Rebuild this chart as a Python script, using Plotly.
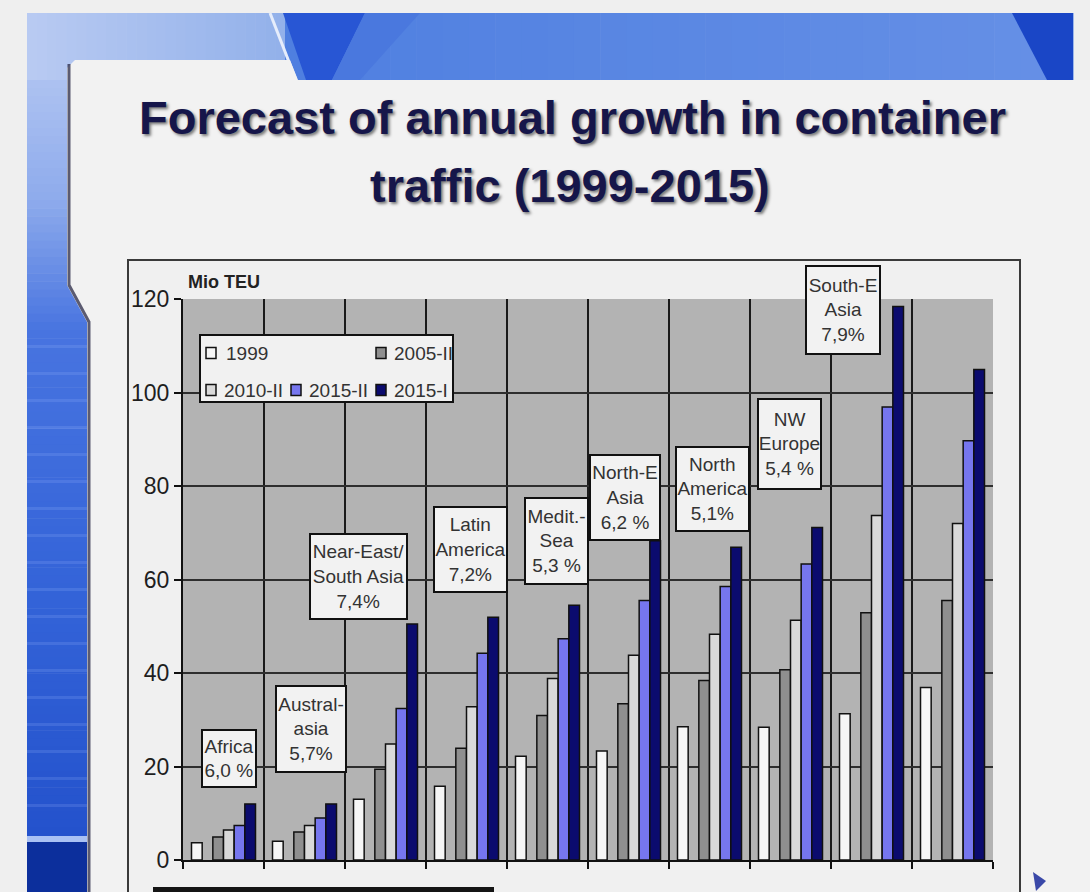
import plotly.graph_objects as go

# ---- data -------------------------------------------------------------
regions = ["Africa", "Australasia", "Near-East/South Asia", "Latin America",
           "Mediterranean Sea", "North-East Asia", "North America",
           "NW Europe", "South-East Asia", "China"]
region_labels = ["Africa", "Austral-<br>asia", "Near-East/<br>South Asia",
                 "Latin<br>America", "Medit.-<br>Sea", "North-E<br>Asia",
                 "North<br>America", "NW<br>Europe", "South-E<br>Asia", "China"]
growth_rates = ["6,0 %", "5,7%", "7,4%", "7,2%", "5,3 %",
                "6,2 %", "5,1%", "5,4 %", "7,9%", "6,2 %"]

series_names = ["1999", "2005-II", "2010-II", "2015-II", "2015-I"]
teu_1999 = [3.7, 4.0, 13.0, 15.8, 22.2, 23.3, 28.5, 28.4, 31.3, 36.9]
teu_2005_ii = [4.9, 6.0, 19.4, 23.9, 30.9, 33.4, 38.4, 40.7, 52.9, 55.5]
teu_2010_ii = [6.4, 7.4, 24.8, 32.8, 38.8, 43.8, 48.3, 51.3, 73.7, 72.0]
teu_2015_ii = [7.4, 9.0, 32.4, 44.2, 47.3, 55.5, 58.5, 63.3, 96.9, 89.7]
teu_2015_i = [12.0, 12.0, 50.5, 51.9, 54.5, 68.3, 66.9, 71.1, 118.4, 104.9]
series_values = [teu_1999, teu_2005_ii, teu_2010_ii, teu_2015_ii, teu_2015_i]

y_ticks = [0, 20, 40, 60, 80, 100, 120]

# ---- styling ----------------------------------------------------------
series_colors = ["#f6f6f6", "#8f8f8f", "#d9d9d9", "#7676ee", "#0b0b6e"]
# six slots per region; the second slot stays empty
series_slots = [0, 2, 3, 4, 5]
N_SLOTS = 6
GROUP_W = 0.79
SLOT_W = GROUP_W / N_SLOTS

W, H = 1090, 892
M_L, M_R, M_T, M_B = 183, 97, 299, 32
PW = W - M_L - M_R
PH = H - M_T - M_B
FONT = "Liberation Sans, Arial, sans-serif"


def fx(x):
    return (x - M_L) / PW


def fy(y):
    return (H - M_B - y) / PH


def rect(x0, y0, x1, y1, fill, line="rgba(0,0,0,0)", lw=0, layer="below"):
    return dict(type="rect", xref="paper", yref="paper",
                x0=fx(x0), x1=fx(x1), y0=fy(y1), y1=fy(y0),
                fillcolor=fill, line=dict(color=line, width=lw), layer=layer)


def poly(points, fill, line="rgba(0,0,0,0)", lw=0, closed=True, layer="below"):
    d = "M " + " L ".join(f"{fx(x):.5f},{fy(y):.5f}" for x, y in points)
    if closed:
        d += " Z"
    return dict(type="path", xref="paper", yref="paper", path=d,
                fillcolor=fill if closed else None,
                line=dict(color=line, width=lw), layer=layer)


def mix(c1, c2, t):
    a = [int(c1[i:i + 2], 16) for i in (1, 3, 5)]
    b = [int(c2[i:i + 2], 16) for i in (1, 3, 5)]
    return "#" + "".join(f"{round(p + (q - p) * t):02x}" for p, q in zip(a, b))


fig = go.Figure()

x_pos = list(range(len(regions)))
for name, vals, color, slot in zip(series_names, series_values,
                                   series_colors, series_slots):
    fig.add_trace(go.Bar(
        x=x_pos, y=vals, name=name,
        width=SLOT_W, offset=-GROUP_W / 2 + slot * SLOT_W,
        marker=dict(color=color, line=dict(color="#111111", width=1.5)),
        showlegend=False,
    ))

shapes = []

# slide background: left blue strip with vertical shading
stops = [(80, "#adc2f1"), (200, "#8eabec"), (330, "#4874e0"),
         (600, "#3363d8"), (836, "#2452cc")]
for (ya, ca), (yb, cb) in zip(stops[:-1], stops[1:]):
    n = max(1, int((yb - ya) / 8))
    for k in range(n):
        y0 = ya + (yb - ya) * k / n
        y1 = ya + (yb - ya) * (k + 1) / n
        shapes.append(rect(27, y0, 87, y1 + 0.6, mix(ca, cb, (k + 0.5) / n)))
for ys in range(345, 830, 27):
    shapes.append(rect(27, ys, 87, ys + 3, "rgba(160,190,255,0.18)"))
shapes.append(rect(27, 836, 87, 842, "#a9c1f4"))
shapes.append(rect(27, 842, 87, 892, "#0c2f9c"))

# top band
n = 26
for k in range(n):
    x0 = 27 + (285 - 27) * k / n
    x1 = 27 + (285 - 27) * (k + 1) / n
    shapes.append(rect(x0, 13, x1 + 0.6, 80, mix("#b9cbf2", "#92b0ea", (k + 0.5) / n)))
n = 30
for k in range(n):
    x0 = 285 + (1073 - 285) * k / n
    x1 = 285 + (1073 - 285) * (k + 1) / n
    c = mix("#4f7fe0", "#6690e6", (k + 0.5) / n)
    shapes.append(rect(x0, 13, x1 + 0.6, 80, c))
shapes.append(poly([(283, 13), (365, 13), (332, 80), (306, 80)], "#2856d4"))
shapes.append(poly([(365, 13), (420, 13), (360, 80), (332, 80)], "#4a78de"))
shapes.append(poly([(1012, 13), (1073, 13), (1073, 80), (1047, 80)], "#1a46c6"))
shapes.append(poly([(270, 13), (296, 80)], None, "#e6edfb", 3, closed=False))

# slide card
shapes.append(poly([(67, 68), (75, 60), (290, 60), (298, 80), (1090, 80),
                    (1090, 892), (87, 892), (87, 322), (67, 285)], "#f2f2f2"))
shapes.append(poly([(69, 64), (69, 285), (89, 322), (89, 892)], None,
                   "rgba(40,40,70,0.75)", 3, closed=False))

# chart frame and plot area
shapes.append(rect(128, 260, 1020, 900, "#f0f0f0", "#3a3a3a", 2))
shapes.append(dict(type="rect", xref="paper", yref="paper", x0=0, x1=1, y0=0, y1=1,
                   fillcolor="#b3b3b3", line=dict(width=0), layer="below"))
shapes.append(rect(153, 887, 494, 895, "#151515"))
shapes.append(poly([(1033, 872), (1046, 881), (1036, 891)], "#3a48a8"))

# legend
shapes.append(rect(200, 335, 453, 402, "#f1f1f1", "#111111", 2, layer="above"))
legend_slots = [(206, 353, 224), (376, 353, 392), (206, 390, 222),
                (291, 390, 307), (376, 390, 392)]
annotations = []
for name, color, (sx, sy, tx) in zip(series_names, series_colors, legend_slots):
    shapes.append(rect(sx, sy - 5.5, sx + 10, sy + 5.5, color, "#111111", 1.5, layer="above"))
    annotations.append(dict(xref="paper", yref="paper", x=fx(tx), y=fy(sy),
                            xanchor="left", yanchor="middle", showarrow=False,
                            text=name, font=dict(family=FONT, size=19, color="#333333")))

# region labels: (x, y) in data units, box size in px
label_boxes = [(0.07, 21.7, 56, 59), (1.08, 28.0, 72, 88), (1.67, 60.6, 99, 87),
               (3.05, 66.4, 75, 87), (4.11, 68.2, 65, 88), (4.96, 77.5, 72, 87),
               (6.04, 79.4, 75, 86), (6.99, 89.0, 65, 92), (7.65, 117.6, 76, 90),
               (9.28, 120.3, 59, 59)]
for lab, rate, (bx, by, bw, bh) in zip(region_labels, growth_rates, label_boxes):
    annotations.append(dict(xref="x", yref="y", x=bx, y=by, showarrow=False,
                            text=f"{lab}<br>{rate}", width=bw - 4, height=bh - 4,
                            align="center", valign="middle",
                            bgcolor="#f2f2f2", bordercolor="#111111",
                            borderwidth=2, borderpad=0,
                            font=dict(family=FONT, size=19, color="#333333")))

annotations.append(dict(xref="paper", yref="paper", x=fx(186), y=fy(282),
                        xanchor="left", yanchor="middle", showarrow=False,
                        text="<b>Mio TEU</b>",
                        font=dict(family=FONT, size=18, color="#222222")))

title_font = dict(family=FONT, size=47, color="#16164a",
                  shadow="2px 2px 3px rgba(0,0,0,0.5)")
annotations.append(dict(xref="paper", yref="paper", x=fx(572), y=fy(118),
                        xanchor="center", yanchor="middle", showarrow=False,
                        text="<b>Forecast of annual growth in container</b>",
                        font=title_font))
annotations.append(dict(xref="paper", yref="paper", x=fx(570), y=fy(185),
                        xanchor="center", yanchor="middle", showarrow=False,
                        text="<b>traffic (1999-2015)</b>", font=title_font))

fig.update_layout(
    width=W, height=H, autosize=False,
    margin=dict(l=M_L, r=M_R, t=M_T, b=M_B, pad=0),
    paper_bgcolor="#efefef", plot_bgcolor="rgba(0,0,0,0)",
    barmode="overlay", showlegend=False,
    shapes=shapes, annotations=annotations,
    font=dict(family=FONT),
)
fig.update_xaxes(range=[-0.5, len(regions) - 0.5],
                 tickvals=[i - 0.5 for i in range(len(regions) + 1)],
                 showticklabels=False, ticks="outside", ticklen=7, tickwidth=2,
                 tickcolor="#111111", showgrid=True, gridcolor="#1a1a1a",
                 gridwidth=2, showline=True, linecolor="#111111", linewidth=2,
                 zeroline=False, fixedrange=True)
fig.update_yaxes(range=[0, 120], tickvals=y_ticks, ticks="outside", ticklen=7,
                 tickwidth=2, tickcolor="#111111", showgrid=True,
                 gridcolor="#2e2e2e", gridwidth=1.5, showline=True,
                 linecolor="#111111", linewidth=2, zeroline=False,
                 tickfont=dict(family=FONT, size=23, color="#1e1e1e"),
                 fixedrange=True)

fig.write_html("out.html")
